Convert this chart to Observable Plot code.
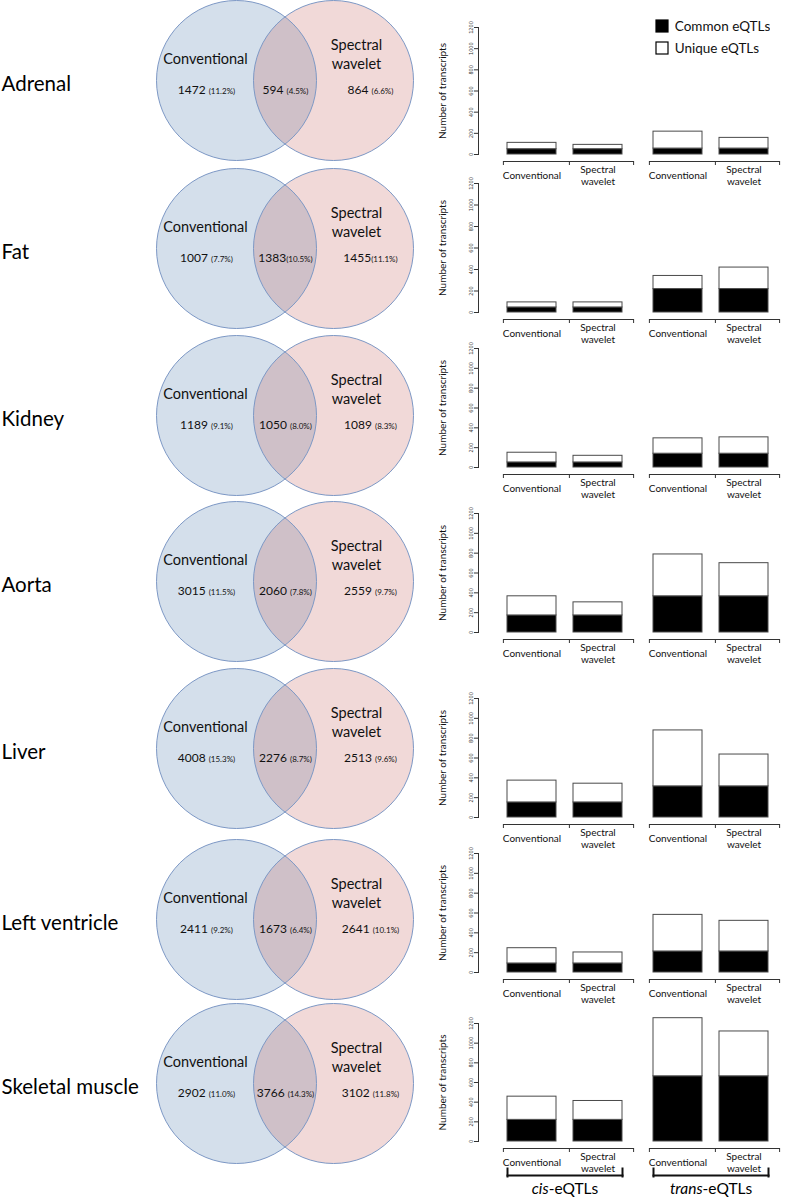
<!DOCTYPE html>
<html><head><meta charset="utf-8">
<script src="https://cdn.jsdelivr.net/npm/d3@7"></script>
<script src="https://cdn.jsdelivr.net/npm/@observablehq/plot@0.6"></script>
<style>
body{margin:0;background:#fff;}
#root{position:relative;width:785px;height:1200px;overflow:hidden;font-family:Lato,sans-serif;}
#root > .item{position:absolute;}
.lg-swatch svg{overflow:visible;}
.lg-swatch svg rect{stroke:#000;stroke-width:1.2px;}
.lg-swatch{height:22px;padding-bottom:0 !important;}
</style></head><body><div id="root"></div>
<script>
// ---------- data ----------
const tissues = ["Adrenal","Fat","Kidney","Aorta","Liver","Left ventricle","Skeletal muscle"];
const sets = ["Conventional","Spectral wavelet"];
const convOnlyLabels = ["1472 (11.2%)","1007 (7.7%)","1189 (9.1%)","3015 (11.5%)","4008 (15.3%)","2411 (9.2%)","2902 (11.0%)"];
const sharedLabels   = ["594 (4.5%)","1383(10.5%)","1050 (8.0%)","2060 (7.8%)","2276 (8.7%)","1673 (6.4%)","3766 (14.3%)"];
const specOnlyLabels = ["864 (6.6%)","1455(11.1%)","1089 (8.3%)","2559 (9.7%)","2513 (9.6%)","2641 (10.1%)","3102 (11.8%)"];

const eqtlTypes = ["cis","trans"];
const methods = ["Conventional","Spectral wavelet"];
const series = ["Common eQTLs","Unique eQTLs"];
const yTicks = [0,200,400,600,800,1000,1200];
const yLabel = "Number of transcripts";
const cisCommon       = [50, 47, 51, 172, 152, 91, 220];
const cisConvUnique   = [60, 47, 98, 193, 220, 154, 236];
const cisSpecUnique   = [41, 47, 67, 132, 189, 111, 192];
const transCommon     = [56, 218, 139, 365, 314, 212, 663];
const transConvUnique = [160, 122, 155, 422, 564, 369, 591];
const transSpecUnique = [101, 200, 165, 334, 321, 309, 456];

// ---------- layout ----------
const vennCenterY = [80, 248, 415, 581, 748, 919, 1083];
const barTopY  = [27, 183, 348, 513, 698, 853, 1023];
const barZeroY = [154, 312, 467, 632, 817, 972, 1141];
const FONT = "Lato, sans-serif";
const NS = "http://www.w3.org/2000/svg";
const root = document.getElementById("root");

function place(node, left, top){
  const d = document.createElement("div");
  d.className = "item"; d.style.left = left + "px"; d.style.top = top + "px";
  d.appendChild(node); root.appendChild(d);
}

function pctRender(index, scales, values, dims, ctx, next){
  const g = next(index, scales, values, dims, ctx);
  g.querySelectorAll("text").forEach(t => {
    const s = t.textContent, k = s.indexOf("(");
    if (k < 0) return;
    t.textContent = s.slice(0, k);
    const ts = document.createElementNS(NS, "tspan");
    ts.setAttribute("font-size", "8");
    ts.textContent = s.slice(k);
    t.appendChild(ts);
  });
  return g;
}
function italicRender(index, scales, values, dims, ctx, next){
  const g = next(index, scales, values, dims, ctx);
  g.querySelectorAll("text").forEach(t => {
    const s = t.textContent, k = s.indexOf("-");
    t.textContent = "";
    const a = document.createElementNS(NS, "tspan");
    a.setAttribute("font-style", "italic");
    a.textContent = s.slice(0, k);
    t.appendChild(a);
    t.appendChild(document.createTextNode(s.slice(k)));
  });
  return g;
}

function venn(i){
  const H = 180;
  const p = Plot.plot({
    width: 430, height: H, margin: 0,
    style: {background: "transparent", overflow: "visible", fontFamily: FONT},
    x: {type: "point", domain: sets, range: [236, 333], padding: 0, axis: null},
    marks: [
      Plot.dot([sets[0]], {x: d => d, r: 80, fill: "#d4dfeb"}),
      Plot.dot([sets[1]], {x: d => d, r: 80, fill: "#c0504d", fillOpacity: 0.22}),
      Plot.dot(sets, {x: d => d, r: 80, fill: "none", stroke: "#7d98c5", strokeWidth: 1}),
      Plot.text([sets[0]], {x: d => d, text: d => d, dx: -31, dy: -21, fontSize: 14.5, fill: "#111"}),
      Plot.text([sets[1]], {x: d => d, text: d => d.replace(" ", "\n"), dx: 23, dy: -27, fontSize: 14.5, lineHeight: 1.3, fill: "#111"}),
      Plot.text([convOnlyLabels[i]], {x: () => sets[0], text: d => d, dx: -30, dy: 9.5, fontSize: 12, fill: "#111", render: pctRender}),
      Plot.text([sharedLabels[i]], {x: () => sets[0], text: d => d, dx: 49, dy: 9.5, fontSize: 12, fill: "#111", render: pctRender}),
      Plot.text([specOnlyLabels[i]], {x: () => sets[1], text: d => d, dx: 37, dy: 9.5, fontSize: 12, fill: "#111", render: pctRender}),
      Plot.text([tissues[i]], {frameAnchor: "left", text: d => d, textAnchor: "start", dx: 1, dy: 4, fontSize: 20.5, fill: "#000"})
    ]
  });
  place(p, 0, vennCenterY[i] - H / 2);
}

function bars(i){
  const last = i === tissues.length - 1;
  const mt = 8, mb = last ? 62 : 42;
  const frameH = barZeroY[i] - barTopY[i];
  const H = mt + frameH + mb;
  const W = 385, ml = 107, mr = 16;
  const fxPad = 0.2116, xPad = 0.2576;
  const facetW = (W - ml - mr) * (1 - fxPad) / (2 - fxPad);
  const bw = facetW * (1 - xPad) / (2 - xPad);
  const uniq = {cis: [cisConvUnique[i], cisSpecUnique[i]], trans: [transConvUnique[i], transSpecUnique[i]]};
  const common = {cis: cisCommon[i], trans: transCommon[i]};
  const rows = [];
  for (const t of eqtlTypes) methods.forEach((m, j) => {
    rows.push({type: t, method: m, series: series[0], value: common[t]});
    rows.push({type: t, method: m, series: series[1], value: uniq[t][j]});
  });
  const cats = rows.filter(d => d.series === series[0]);
  const axisColor = "#333";
  const marks = [
    Plot.barY(rows, {fx: "type", x: "method", y: "value", fill: "series", stroke: "#4a4a4a", strokeWidth: 1}),
    Plot.axisY({ticks: yTicks, tickFormat: d => String(d), tickSize: 4, tickRotate: -90, tickPadding: 2, fontSize: 5.5, dx: -29, label: null, stroke: axisColor, fill: "#333", fontFamily: "DejaVu Sans Condensed, DejaVu Sans, sans-serif"}),
    Plot.frame({anchor: "left", dx: -29, facetAnchor: "left", stroke: axisColor}),
    Plot.frame({anchor: "bottom", insetBottom: -7, insetLeft: -4, insetRight: -11, stroke: axisColor}),
    Plot.ruleX(cats, {fx: "type", x: "method", dx: -(bw / 2) - 4, insetTop: frameH + 7, insetBottom: -11, stroke: axisColor}),
    Plot.ruleX(cats.filter(d => d.method === methods[1]), {fx: "type", x: "method", dx: bw / 2 + 11, insetTop: frameH + 7, insetBottom: -11, stroke: axisColor}),
    Plot.text(cats, {fx: "type", x: "method", text: d => d.method.replace(" ", "\n"), frameAnchor: "bottom", dy: 21, lineAnchor: "middle", fontSize: 10, lineHeight: 1.2, fill: "#111"}),
    Plot.text([yLabel], {frameAnchor: "left", text: d => d, textAnchor: "middle", rotate: -90, dx: -65, facetAnchor: "left", fontSize: 10, fill: "#111"})
  ];
  if (last) {
    marks.push(
      Plot.frame({anchor: "bottom", insetBottom: -34, strokeWidth: 2, stroke: "#111"}),
      Plot.frame({anchor: "left", insetTop: frameH + 27, insetBottom: -35, strokeWidth: 2, stroke: "#111"}),
      Plot.frame({anchor: "right", insetTop: frameH + 27, insetBottom: -35, strokeWidth: 2, stroke: "#111"}),
      Plot.text(eqtlTypes, {fx: d => d, text: d => d + "-eQTLs", frameAnchor: "bottom", dy: 52, fontSize: 15.5, fill: "#000", render: italicRender})
    );
  }
  const p = Plot.plot({
    width: W, height: H, marginLeft: ml, marginRight: mr, marginTop: mt, marginBottom: mb,
    style: {background: "transparent", overflow: "visible", fontFamily: FONT},
    fx: {domain: eqtlTypes, paddingInner: fxPad, paddingOuter: 0, axis: null},
    x: {domain: methods, paddingInner: xPad, paddingOuter: 0, axis: null},
    y: {domain: [0, 1200]},
    color: {domain: series, range: ["#000000", "#ffffff"]},
    marks
  });
  place(p, 400, barTopY[i] - mt);
}

tissues.forEach((t, i) => { venn(i); });
tissues.forEach((t, i) => { bars(i); });

const legend = Plot.legend({
  color: {domain: series, range: ["#000000", "#ffffff"]},
  columns: 1, swatchSize: 12, className: "lg",
  style: {fontSize: "13.5px", fontFamily: FONT, color: "#111", background: "transparent"}
});
place(legend, 656, 15);
</script></body></html>
